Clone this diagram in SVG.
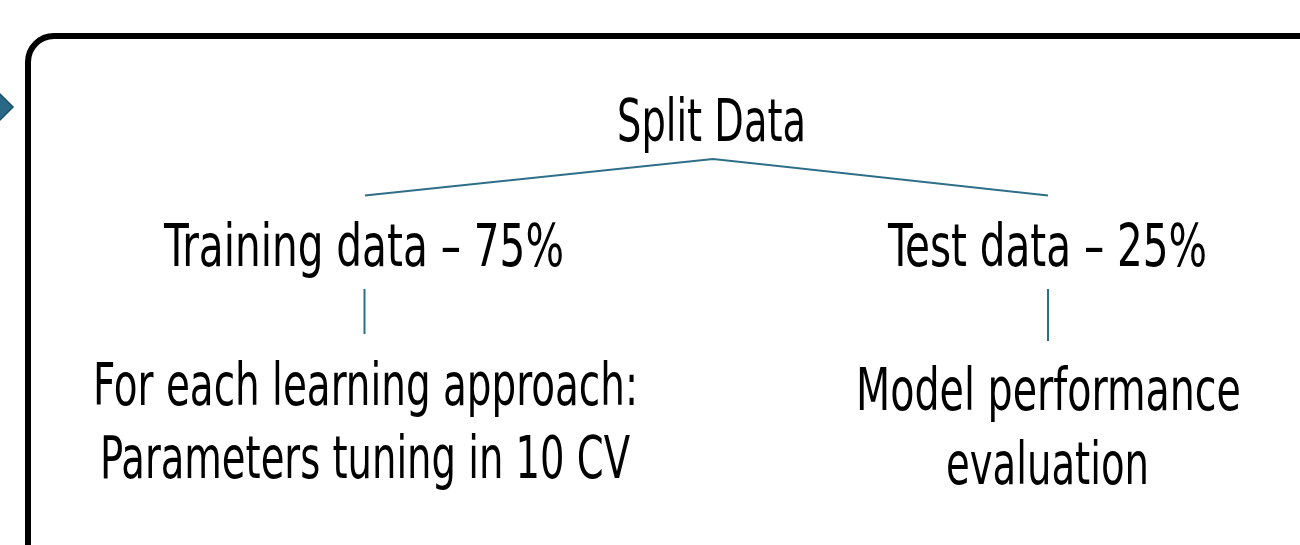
<svg xmlns="http://www.w3.org/2000/svg" width="1300" height="545" viewBox="0 0 1300 545">
<style>
.t{font-family:"Liberation Sans Narrow","DejaVu Sans Condensed","Liberation Sans",sans-serif;font-size:58px;fill:#000;}
.c{stroke:#2f6e89;stroke-width:2;fill:none;}
</style>
<rect width="1300" height="545" fill="#fff"/>
<polygon id="marker" points="-8,86 13,107 -8,128 -29,107" fill="#2a6985" stroke="#1d4f66" stroke-width="1.5"/>
<rect id="frame" x="28" y="36" width="1320" height="560" rx="26" fill="none" stroke="#000" stroke-width="6"/>
<g id="connectors">
<polyline class="c" points="365,195.5 713,159 1048,195.5"/>
<line class="c" x1="364.5" y1="289" x2="364.5" y2="334"/>
<line class="c" x1="1048" y1="289" x2="1048" y2="341"/>
</g>
<g id="split"><text class="t" x="617" y="141" textLength="189" lengthAdjust="spacingAndGlyphs">Split Data</text></g>
<g id="train"><text class="t" x="164" y="266" textLength="400" lengthAdjust="spacingAndGlyphs">Training data – 75%</text></g>
<g id="test"><text class="t" x="888" y="266" textLength="319" lengthAdjust="spacingAndGlyphs">Test data – 25%</text></g>
<g id="tuning">
<text class="t" x="93" y="405" textLength="545" lengthAdjust="spacingAndGlyphs">For each learning approach:</text>
<text class="t" x="100" y="478" textLength="530" lengthAdjust="spacingAndGlyphs">Parameters tuning in 10 CV</text>
</g>
<g id="eval">
<text class="t" x="856" y="410" textLength="385" lengthAdjust="spacingAndGlyphs">Model performance</text>
<text class="t" x="946" y="484" textLength="203" lengthAdjust="spacingAndGlyphs">evaluation</text>
</g>
</svg>
